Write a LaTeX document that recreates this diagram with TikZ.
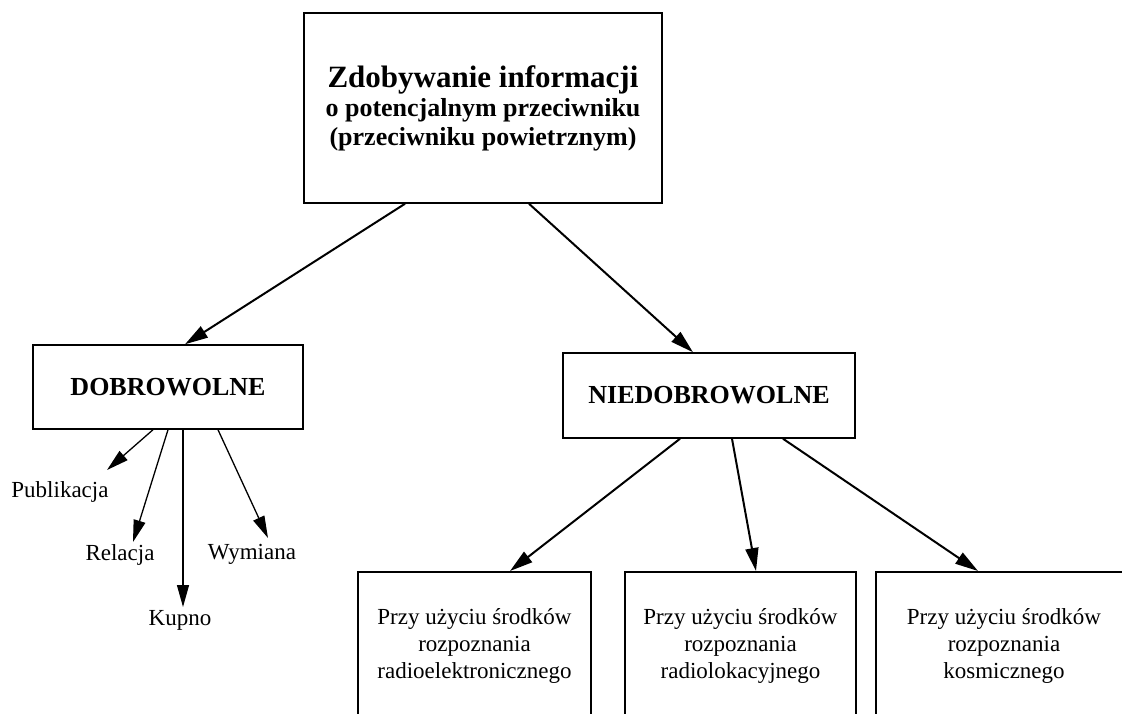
\documentclass[tikz,border=0pt]{standalone}
\usepackage{fontspec}
\setmainfont{Liberation Serif}
\usetikzlibrary{arrows.meta}
\begin{document}
\begin{tikzpicture}[x=1pt,y=-1pt,
  box/.style={draw, line width=1.5pt, inner sep=0pt, align=center},
  arr/.style={-{Triangle[length=23pt,width=13pt]}, line width=2pt},
  sarr/.style={-{Triangle[length=22pt,width=12pt]}, line width=1.3pt},
  lab/.style={font=\fontsize{23}{27}\selectfont, inner sep=0pt, anchor=base},
  bfont/.style={font=\bfseries\fontsize{26}{29}\selectfont},
  rfont/.style={font=\fontsize{23}{27}\selectfont}]
\useasboundingbox (0,0) rectangle (1122,713);
\clip (0,0) rectangle (1122,713);
% main box
\node[box, bfont, minimum width=358pt, minimum height=190pt] (top) at (483,108)
  {{\fontsize{31}{29}\selectfont Zdobywanie informacji}\\o potencjalnym przeciwniku\\(przeciwniku powietrznym)};
% second level
\node[box, bfont, minimum width=270pt, minimum height=84pt] (dob) at (168,387) {DOBROWOLNE};
\node[box, bfont, minimum width=292pt, minimum height=85pt] (nie) at (709,395.5) {NIEDOBROWOLNE};
% bottom boxes (cut off by the page edge)
\node[box, rfont, anchor=north, minimum width=233pt, minimum height=148pt] (b1) at (474.5,571)
  {Przy użyciu środków\\rozpoznania\\radioelektronicznego};
\node[box, rfont, anchor=north, minimum width=231pt, minimum height=148pt] (b2) at (740.5,571)
  {Przy użyciu środków\\rozpoznania\\radiolokacyjnego};
\node[box, rfont, anchor=north, minimum width=256pt, minimum height=148pt] (b3) at (1004,571)
  {Przy użyciu środków\\rozpoznania\\kosmicznego};
% labels of DOBROWOLNE
\node[lab] (pub) at (60,497) {Publikacja};
\node[lab] (rel) at (120,560) {Relacja};
\node[lab] (kup) at (180,625) {Kupno};
\node[lab] (wym) at (252,559) {Wymiana};
\coordinate (tPub) at (107,470);
\coordinate (tRel) at (133,542);
\coordinate (tKup) at (183,607);
\coordinate (tWym) at (268,538);
% arrows
\draw[arr] ([xshift=-78pt]top.south) -- ([xshift=17pt]dob.north);
\draw[arr] ([xshift=46pt]top.south) -- ([xshift=-16pt]nie.north);
\draw[arr] ([xshift=-29pt]nie.south) -- ([xshift=35.5pt]b1.north);
\draw[arr] ([xshift=23pt]nie.south) -- ([xshift=15.5pt]b2.north);
\draw[arr] ([xshift=74pt]nie.south) -- ([xshift=-26pt]b3.north);
\draw[sarr] ([xshift=-15pt]dob.south) -- (tPub);
\draw[sarr] (dob.south) -- (tRel);
\draw[sarr] ([xshift=15pt]dob.south) -- (tKup);
\draw[sarr] ([xshift=50pt]dob.south) -- (tWym);
\end{tikzpicture}
\end{document}
